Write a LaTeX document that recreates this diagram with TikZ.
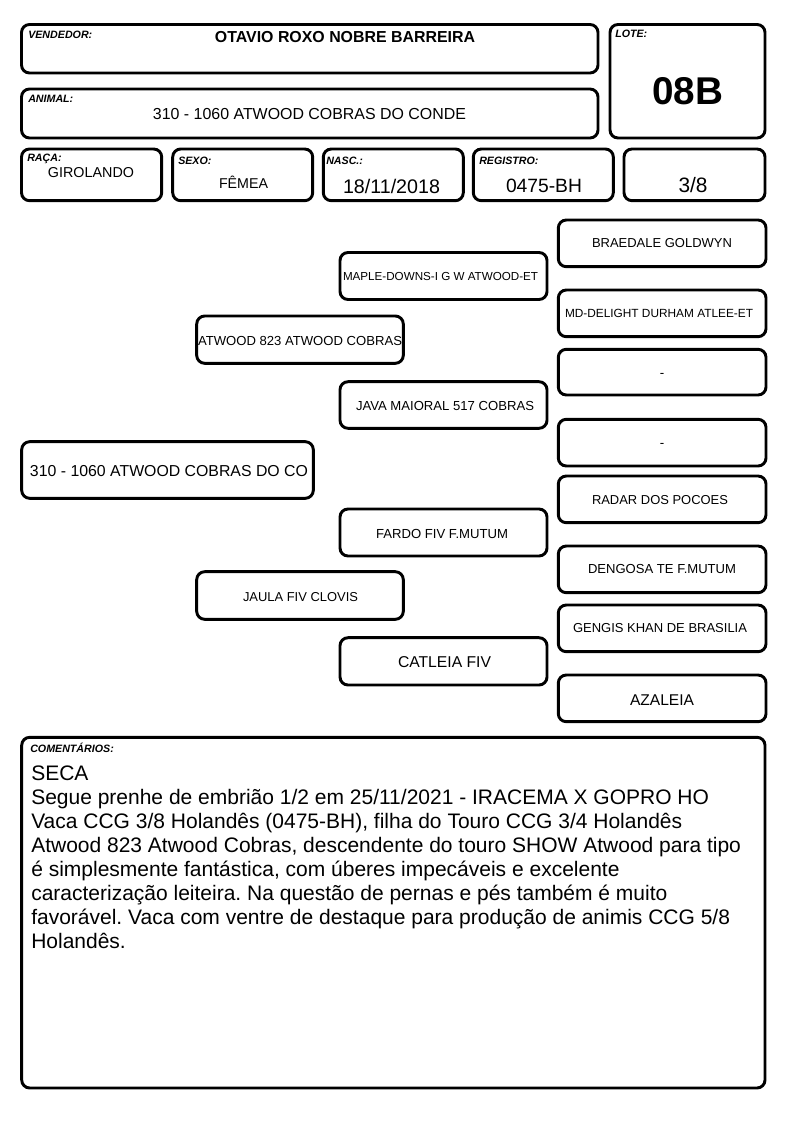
\documentclass[tikz,border=0pt]{standalone}
\usepackage{fontspec}
\setmainfont{Liberation Sans}
\usepackage{graphicx}
\newlength\pxu
\setlength\pxu{0.75pt}
\newcommand\fitw[2]{\resizebox{#1\pxu}{!}{#2}}
\newcommand\panelbox[5]{\node[panel, minimum width={0.75pt*(#4-#2)}, minimum height={0.75pt*(#5-#3)}] (#1) at (#2,#3) {};}
\tikzset{
  panel/.style={draw, line width=2.2pt, rounded corners=6pt, anchor=north west, outer sep=0pt, inner sep=0pt},
  lab/.style={font=\fontsize{8}{9}\selectfont\bfseries\itshape, anchor=base west, inner sep=0pt},
  val/.style={anchor=base, inner sep=0pt},
}
\begin{document}
\frenchspacing
\begin{tikzpicture}[x=0.75pt,y=-0.75pt]
\useasboundingbox (0,0) rectangle (794,1123);
% header
\panelbox{vend}{21.5}{24.5}{598}{73}
\panelbox{anim}{21.5}{89}{598}{138}
\panelbox{lote}{610}{24.5}{765}{138}
\panelbox{raca}{21.5}{149}{161.7}{200.7}
\panelbox{sexo}{172.7}{149}{312.7}{200.7}
\panelbox{nasc}{323.3}{149}{463.3}{200.7}
\panelbox{reg}{473.3}{149}{613.3}{200.7}
\panelbox{grau}{624}{149}{765}{200.7}
\node[lab] (l-vend) at (28,39) {VENDEDOR:};
\node[lab] (l-anim) at (28,103) {ANIMAL:};
\node[lab] (l-lote) at (615,38) {LOTE:};
\node[lab] (l-raca) at (27,162) {RAÇA:};
\node[lab] (l-sexo) at (178,164.5) {SEXO:};
\node[lab] (l-nasc) at (326,164.5) {NASC.:};
\node[lab] (l-reg) at (479,164.5) {REGISTRO:};
\node[val] (v-vend) at (345,43) {\fitw{260}{\bfseries OTAVIO ROXO NOBRE BARREIRA}};
\node[val] (v-anim) at (309.5,119.5) {\fitw{313}{310 - 1060 ATWOOD COBRAS DO CONDE}};
\node[val] (v-lote) at (687.5,105) {\fitw{71}{\bfseries 08B}};
\node[val] (v-raca) at (91,178) {\fitw{86}{GIROLANDO}};
\node[val] (v-sexo) at (243.5,188.5) {\fitw{49}{FÊMEA}};
\node[val] (v-nasc) at (391.5,194) {\fitw{97}{18/11/2018}};
\node[val] (v-reg) at (544,193) {\fitw{76}{0475-BH}};
\node[val] (v-grau) at (693,193) {\fitw{29}{3/8}};
% pedigree
\panelbox{p0}{21.7}{441.7}{313.3}{498.3}
\panelbox{p1}{196.7}{316}{403.3}{363.3}
\panelbox{p2}{196.7}{571.7}{403.3}{619.3}
\panelbox{p3}{340}{252.5}{547}{299.5}
\panelbox{p4}{340}{381.7}{547}{428.3}
\panelbox{p5}{340}{509}{547}{556}
\panelbox{p6}{340}{637.7}{547}{685}
\panelbox{p7}{558.3}{220}{766}{266.7}
\panelbox{p8}{558.3}{290}{766}{336.7}
\panelbox{p9}{558.3}{349.3}{766}{395}
\panelbox{p10}{558.3}{419.3}{766}{466}
\panelbox{p11}{558.3}{476}{766}{522.7}
\panelbox{p12}{558.3}{546}{766}{592.7}
\panelbox{p13}{558.3}{605}{766}{651.7}
\panelbox{p14}{558.3}{675}{766}{721.7}
\node[val] (t0) at (169,476) {\fitw{278}{310 - 1060 ATWOOD COBRAS DO CO}};
\node[val] (t1) at (300,345) {\fitw{204}{ATWOOD 823 ATWOOD COBRAS}};
\node[val] (t2) at (300.5,601) {\fitw{115}{JAULA FIV CLOVIS}};
\node[val] (t3) at (440.5,280) {\fitw{195}{MAPLE-DOWNS-I G W ATWOOD-ET}};
\node[val] (t4) at (445,410) {\fitw{178}{JAVA MAIORAL 517 COBRAS}};
\node[val] (t5) at (442,538) {\fitw{132}{FARDO FIV F.MUTUM}};
\node[val] (t6) at (444.5,667) {\fitw{93}{CATLEIA FIV}};
\node[val] (t7) at (662,247.3) {\fitw{140}{BRAEDALE GOLDWYN}};
\node[val] (t8) at (659,317.3) {\fitw{188}{MD-DELIGHT DURHAM ATLEE-ET}};
\node[val, font=\fontsize{10}{12}\selectfont] (t9) at (662,377) {-};
\node[val, font=\fontsize{10}{12}\selectfont] (t10) at (662,447) {-};
\node[val] (t11) at (660,504) {\fitw{136}{RADAR DOS POCOES}};
\node[val] (t12) at (662,573) {\fitw{148}{DENGOSA TE F.MUTUM}};
\node[val] (t13) at (660,632) {\fitw{174}{GENGIS KHAN DE BRASILIA}};
\node[val] (t14) at (662,705) {\fitw{64}{AZALEIA}};
% comments
\panelbox{com}{21.7}{737.3}{765}{1088}
\node[lab] (l-com) at (30,752.7) {COMENTÁRIOS:};
\node[anchor=base west, inner sep=0pt, font=\fontsize{15.75}{18}\selectfont] (v-com) at (31,780) {\begin{tabular}[t]{@{}l@{}}
SECA\\
Segue prenhe de embrião 1/2 em 25/11/2021 - IRACEMA X GOPRO HO\\
Vaca CCG 3/8 Holandês (0475-BH), filha do Touro CCG 3/4 Holandês\\
Atwood 823 Atwood Cobras, descendente do touro SHOW Atwood para tipo\\
é simplesmente fantástica, com úberes impecáveis e excelente\\
caracterização leiteira. Na questão de pernas e pés também é muito\\
favorável. Vaca com ventre de destaque para produção de animis CCG 5/8\\
Holandês.
\end{tabular}};
\end{tikzpicture}
\end{document}
